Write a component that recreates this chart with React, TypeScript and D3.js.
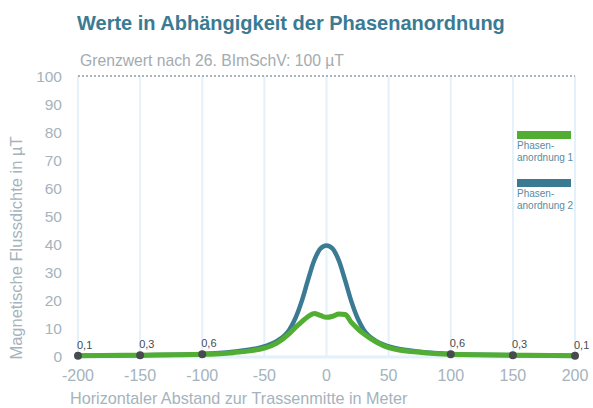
import React from 'react';
import * as d3 from 'd3';

// Abstand zur Trassenmitte (m)
const distances = [-200, -150, -100, -75, -50, -40, -30, -25, -20, -15, -10, -5, 0, 5, 10, 15, 20, 25, 30, 40, 50, 75, 100, 150, 200];
// Phasenanordnung 1 (green)
const phase1 = [0.1, 0.3, 0.6, 1.2, 2.8, 4.6, 8.0, 10.2, 12.2, 14.0, 15.2, 14.5, 13.8, 14.2, 15.0, 14.8, 12.0, 9.8, 7.9, 5.0, 3.0, 1.3, 0.6, 0.3, 0.1];
// Phasenanordnung 2 (blue)
const phase2 = [0.1, 0.3, 0.7, 1.5, 3.4, 5.3, 9.3, 13.5, 19.5, 27.0, 34.0, 38.3, 39.5, 38.3, 34.0, 27.0, 19.5, 13.5, 9.3, 5.3, 3.4, 1.5, 0.7, 0.3, 0.1];

const markedDistances = [-200, -150, -100, 100, 150, 200];
const markedLabels = ['0,1', '0,3', '0,6', '0,6', '0,3', '0,1'];

const xTicks = [-200, -150, -100, -50, 0, 50, 100, 150, 200];
const yTicks = [0, 10, 20, 30, 40, 50, 60, 70, 80, 90, 100];

const seriesNames = ['Phasen-|anordnung 1', 'Phasen-|anordnung 2'];
const seriesColors = ['#52ae32', '#3b7a93'];

const WIDTH = 593;
const HEIGHT = 408;
const FONT = '"Liberation Sans", Arial, Helvetica, sans-serif';
const AXIS_GREY = '#a5b3bd';

export default function App() {
  const x = d3.scaleLinear().domain([-200, 200]).range([78, 575]);
  const y = d3.scaleLinear().domain([0, 100]).range([356, 76]);

  const line = d3
    .line<number>()
    .x((_, i) => x(distances[i]))
    .y((d) => y(d))
    .curve(d3.curveMonotoneX);

  const legendX = 517;

  return (
    <svg
      width={WIDTH}
      height={HEIGHT}
      style={{ position: 'absolute', left: 0, top: 0, background: '#fff' }}
      fontFamily={FONT}
    >
      {/* title */}
      <text x={77} y={30} fontSize={20} fontWeight="bold" fill="#3b7a93">
        Werte in Abhängigkeit der Phasenanordnung
      </text>
      <text x={80} y={66} fontSize={15.7} fill="#a3abb0">
        Grenzwert nach 26. BImSchV: 100 µT
      </text>

      {/* vertical grid */}
      {xTicks.map((t) => (
        <line key={t} x1={x(t)} x2={x(t)} y1={y(100)} y2={y(0)} stroke="#e4f1fb" strokeWidth={2} />
      ))}
      <line x1={x(-200)} x2={x(200)} y1={y(0) + 1} y2={y(0) + 1} stroke="#e4f1fb" strokeWidth={3} />

      {/* limit line */}
      <line
        x1={x(-200)}
        x2={x(200)}
        y1={y(100)}
        y2={y(100)}
        stroke="#8e9ca6"
        strokeWidth={1.5}
        strokeDasharray="2,2"
      />

      {/* y ticks */}
      {yTicks.map((t) => (
        <text key={t} x={62} y={y(t) + 5.5} fontSize={15.5} fill={AXIS_GREY} textAnchor="end">
          {t}
        </text>
      ))}
      {/* x ticks */}
      {xTicks.map((t) => (
        <text key={t} x={x(t)} y={381} fontSize={16} fill={AXIS_GREY} textAnchor="middle">
          {t}
        </text>
      ))}

      <text x={70} y={404} fontSize={16.2} fill={AXIS_GREY}>
        Horizontaler Abstand zur Trassenmitte in Meter
      </text>
      <text
        transform={`translate(22,248) rotate(-90)`}
        fontSize={16.5}
        fill={AXIS_GREY}
        textAnchor="middle"
      >
        Magnetische Flussdichte in µT
      </text>

      {/* lines */}
      <path d={line(phase2) ?? ''} fill="none" stroke={seriesColors[1]} strokeWidth={4.5} strokeLinejoin="round" />
      <path d={line(phase1) ?? ''} fill="none" stroke={seriesColors[0]} strokeWidth={5} strokeLinejoin="round" />

      {/* marked values */}
      {markedDistances.map((d, i) => {
        const v = phase1[distances.indexOf(d)];
        return (
          <g key={d}>
            <circle cx={x(d)} cy={y(v)} r={4} fill="#474b4f" />
            <text x={x(d) - 1} y={y(v) - 7} fontSize={11} fill="#474b4f">
              {markedLabels[i]}
            </text>
          </g>
        );
      })}

      {/* legend */}
      {seriesNames.map((name, i) => {
        const top = 131 + i * 48;
        const parts = name.split('|');
        return (
          <g key={name}>
            <rect x={legendX} y={top} width={54} height={8} fill={seriesColors[i]} />
            {parts.map((p, j) => (
              <text key={j} x={legendX} y={top + 17.5 + j * 12.5} fontSize={10} fill="#5b8ba0">
                {p}
              </text>
            ))}
          </g>
        );
      })}
    </svg>
  );
}
